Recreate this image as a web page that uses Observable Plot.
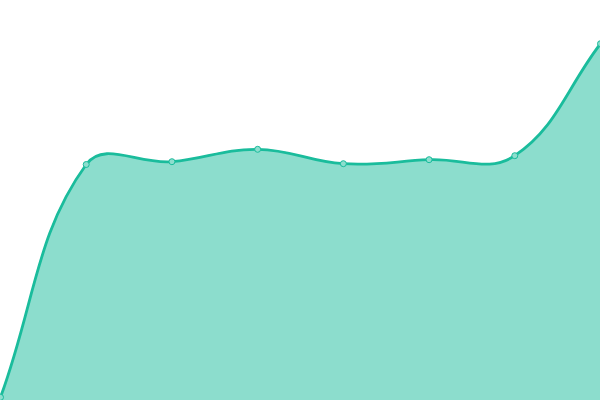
<!DOCTYPE html>
<html>
<head>
<meta charset="utf-8">
<script src="https://cdn.jsdelivr.net/npm/d3@7"></script>
<script src="https://cdn.jsdelivr.net/npm/@observablehq/plot@0.6"></script>
<style>
  html, body { margin: 0; padding: 0; background: #fff; }
  svg { display: block; }
</style>
</head>
<body>
<div id="chart"></div>
<script>
const xs = [0, 1, 2, 3, 4, 5, 6, 7];
const values = [0.8, 59, 59.7, 62.8, 59.2, 60.2, 61.2, 89.2];

const data = xs.map((x, i) => ({x, y: values[i]}));

// Tension-based spline (control points scaled by neighbour distances)
function TensionCurve(context) { this._context = context; }
TensionCurve.prototype = {
  areaStart() { this._line = 0; },
  areaEnd() { this._line = NaN; },
  lineStart() { this._xs = []; this._ys = []; },
  point(x, y) { this._xs.push(+x); this._ys.push(+y); },
  lineEnd() {
    const X = this._xs, Y = this._ys, n = X.length, c = this._context, t = 0.4;
    if (n) {
      this._line ? c.lineTo(X[0], Y[0]) : c.moveTo(X[0], Y[0]);
      if (n === 2) c.lineTo(X[1], Y[1]);
      else if (n > 2) {
        const cpPrev = [], cpNext = [];
        for (let i = 0; i < n; i++) {
          const p = i > 0 ? i - 1 : i, q = i < n - 1 ? i + 1 : i;
          const d01 = Math.hypot(X[i] - X[p], Y[i] - Y[p]);
          const d12 = Math.hypot(X[q] - X[i], Y[q] - Y[i]);
          let s01 = d01 / (d01 + d12), s12 = d12 / (d01 + d12);
          if (!isFinite(s01)) s01 = 0;
          if (!isFinite(s12)) s12 = 0;
          const fa = t * s01, fb = t * s12;
          cpPrev[i] = [X[i] - fa * (X[q] - X[p]), Y[i] - fa * (Y[q] - Y[p])];
          cpNext[i] = [X[i] + fb * (X[q] - X[p]), Y[i] + fb * (Y[q] - Y[p])];
        }
        for (let i = 1; i < n; i++) {
          c.bezierCurveTo(cpNext[i - 1][0], cpNext[i - 1][1], cpPrev[i][0], cpPrev[i][1], X[i], Y[i]);
        }
      }
    }
    if (this._line || (this._line !== 0 && n === 1)) c.closePath();
    this._line = 1 - this._line;
  }
};
const tensionCurve = (context) => new TensionCurve(context);

const chart = Plot.plot({
  width: 600,
  height: 400,
  margin: 0,
  x: {domain: [0, 7], axis: null},
  y: {domain: [0, 100], axis: null},
  marks: [
    Plot.areaY(data, {x: "x", y: "y", curve: tensionCurve, fill: "#1abc9c", fillOpacity: 0.5}),
    Plot.lineY(data, {x: "x", y: "y", curve: tensionCurve, stroke: "#1abc9c", strokeWidth: 2.8}),
    Plot.dot(data, {x: "x", y: "y", r: 3, fill: "#8ddece", stroke: "#1abc9c", strokeWidth: 1})
  ]
});
document.getElementById("chart").appendChild(chart);
</script>
</body>
</html>
